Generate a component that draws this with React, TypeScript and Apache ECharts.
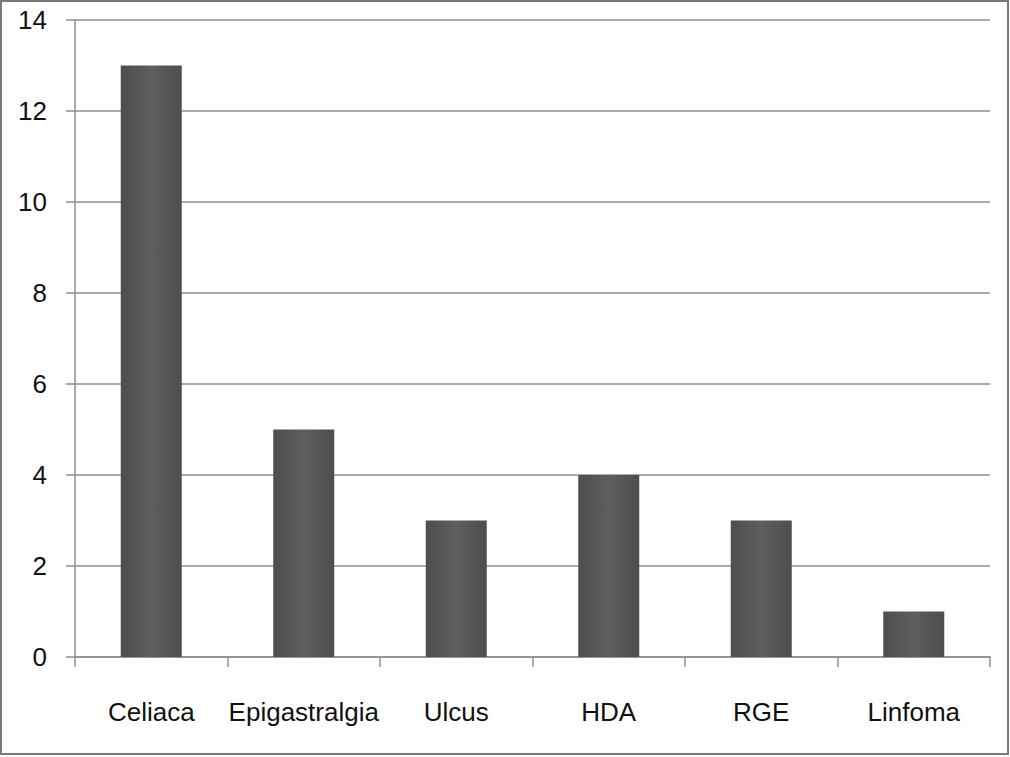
import React, { useEffect, useRef } from "react";
import * as echarts from "echarts";

const categories = ["Celiaca", "Epigastralgia", "Ulcus", "HDA", "RGE", "Linfoma"];
const values = [13, 5, 3, 4, 3, 1];
const yTicks = [0, 2, 4, 6, 8, 10, 12, 14];

export default function App() {
  const ref = useRef<HTMLDivElement>(null);
  useEffect(() => {
    if (!ref.current) return;
    const chart = echarts.init(ref.current, undefined, { renderer: "svg" });
    chart.setOption({
      animation: false,
      backgroundColor: "#ffffff",
      grid: { left: 75, right: 20, top: 20, bottom: 100, containLabel: false },
      xAxis: {
        type: "category",
        data: categories,
        axisLine: { show: true, lineStyle: { color: "#8f8f8f", width: 1.5 } },
        axisTick: { show: true, interval: 0, length: 10, lineStyle: { color: "#8f8f8f", width: 1.5 } },
        axisLabel: {
          interval: 0,
          hideOverlap: false,
          margin: 42,
          fontFamily: "Liberation Sans",
          fontSize: 26,
          color: "#111111",
        },
      },
      yAxis: {
        type: "value",
        min: yTicks[0],
        max: yTicks[yTicks.length - 1],
        interval: 2,
        axisLine: { show: true, lineStyle: { color: "#8f8f8f", width: 1.5 } },
        axisTick: { show: true, length: 9, lineStyle: { color: "#8f8f8f", width: 1.5 } },
        splitLine: { show: true, lineStyle: { color: "#8f8f8f", width: 1.5 } },
        axisLabel: {
          margin: 28,
          fontFamily: "Liberation Sans",
          fontSize: 26,
          color: "#111111",
        },
      },
      series: [
        {
          type: "bar",
          data: values,
          barWidth: 61,
          itemStyle: {
            color: new echarts.graphic.LinearGradient(0, 0, 1, 0, [
              { offset: 0, color: "#4e4e4e" },
              { offset: 0.5, color: "#5e5e5e" },
              { offset: 1, color: "#4e4e4e" },
            ]),
          },
        },
      ],
      graphic: [
        {
          type: "rect",
          shape: { x: 1, y: 1, width: 1007, height: 753 },
          style: { fill: "none", stroke: "#7a7a7a", lineWidth: 2 },
          silent: true,
        },
      ],
    });
    return () => chart.dispose();
  }, []);
  return (
    <div
      ref={ref}
      style={{ position: "absolute", left: 0, top: 0, width: 1010, height: 757 }}
    />
  );
}
